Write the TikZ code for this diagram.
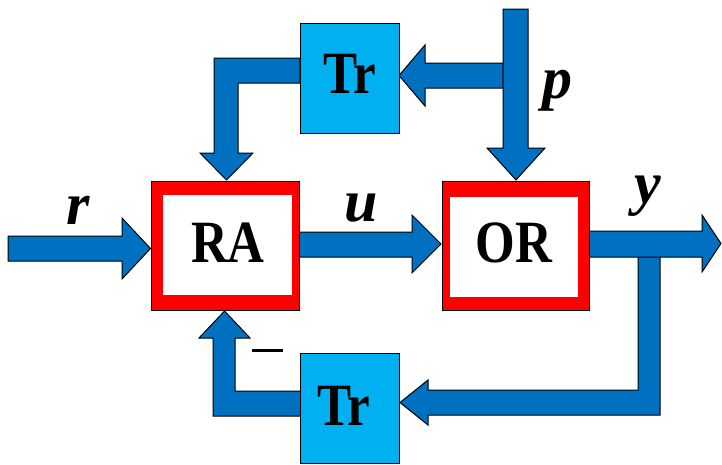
\documentclass[tikz,border=0pt]{standalone}
\usepackage{fontspec}
\setmainfont{Liberation Serif}
\newfontfamily\boxfont[FakeStretch=0.85]{Liberation Serif}
\definecolor{arrowblue}{RGB}{0,112,192}
\definecolor{trblue}{RGB}{0,176,240}
\definecolor{boxred}{RGB}{255,0,0}
\begin{document}
\begin{tikzpicture}[x=1pt,y=-1pt,
  blockarrow/.style={fill=arrowblue,draw=black,line width=1pt,line join=miter},
  outerbox/.style={rectangle,fill=boxred,draw=black,line width=1pt,inner sep=0pt},
  trbox/.style={rectangle,fill=trblue,draw=black,line width=1pt,inner sep=0pt,minimum width=99pt,minimum height=110pt},
  boxlbl/.style={anchor=base,inner sep=0pt,font=\boxfont\bfseries\fontsize{60}{60}\selectfont},
  siglbl/.style={anchor=base,inner sep=0pt,font=\bfseries\itshape\fontsize{60}{60}\selectfont}]
\useasboundingbox (0,0) rectangle (722,464);
% coordinates for connector ends
\coordinate (rin) at (8,248.5);
\coordinate (pin) at (515.5,9);
\coordinate (yout) at (721,244);
% ---- connectors (block arrows)
% top-left L: Tr(top) -> RA
\draw[blockarrow] (300,58) -- (214,58) -- (214,153) -- (200,153) -- (226.5,180) -- (253,153) -- (238,153) -- (238,83) -- (300,83) -- cycle;
% p branch -> Tr(top)
\draw[blockarrow] (503,63) -- (425,63) -- (425,45) -- (399,75.5) -- (425,106) -- (425,88) -- (503,88) -- cycle;
% p -> OR
\draw[blockarrow] (503,9) -- (528,9) -- (528,148) -- (545,148) -- (516,180) -- (487,148) -- (503,148) -- cycle;
% r -> RA
\draw[blockarrow] (8,236) -- (122,236) -- (122,218) -- (150.5,248.5) -- (122,279) -- (122,261) -- (8,261) -- cycle;
% u: RA -> OR
\draw[blockarrow] (299,232) -- (412,232) -- (412,215) -- (441,244) -- (412,273) -- (412,257) -- (299,257) -- cycle;
% feedback branch y -> Tr(bottom)
\draw[blockarrow] (638,250) -- (660,250) -- (660,415) -- (428,415) -- (428,425) -- (400,402.5) -- (428,380) -- (428,390) -- (638,390) -- cycle;
% y output
\draw[blockarrow] (589,231) -- (702,231) -- (702,215) -- (721,243.5) -- (702,272) -- (702,257) -- (589,257) -- cycle;
% bottom-left L: Tr(bottom) -> RA
\draw[blockarrow] (301,391) -- (235,391) -- (235,338) -- (250,338) -- (224.5,311) -- (199,338) -- (213,338) -- (213,416) -- (301,416) -- cycle;
% ---- blocks
\node[outerbox,minimum width=148pt,minimum height=129pt] (RA) at (225,245.5) {};
\fill[white] (163,195) rectangle (292,295);
\node[boxlbl] (RAt) at (228,262) {RA};
\node[outerbox,minimum width=147pt,minimum height=129pt] (OR) at (515.5,245.5) {};
\fill[white] (450,197) rectangle (578,297);
\node[boxlbl] (ORt) at (514,262) {OR};
\node[trbox] (TrT) at (349.5,78) {};
\node[boxlbl] (TrTt) at (350,93) {Tr};
\node[trbox] (TrB) at (350,408.5) {};
\node[boxlbl] (TrBt) at (344,425) {Tr};
% ---- labels
\node[siglbl] (rl) at (78,224) {r};
\node[siglbl] (ul) at (361,221) {u};
\node[siglbl] (pl) at (557,98) {p};
\node[siglbl] (yl) at (648,203) {y};
\draw[line width=3pt] (252,350) -- (283,350);
\end{tikzpicture}
\end{document}
